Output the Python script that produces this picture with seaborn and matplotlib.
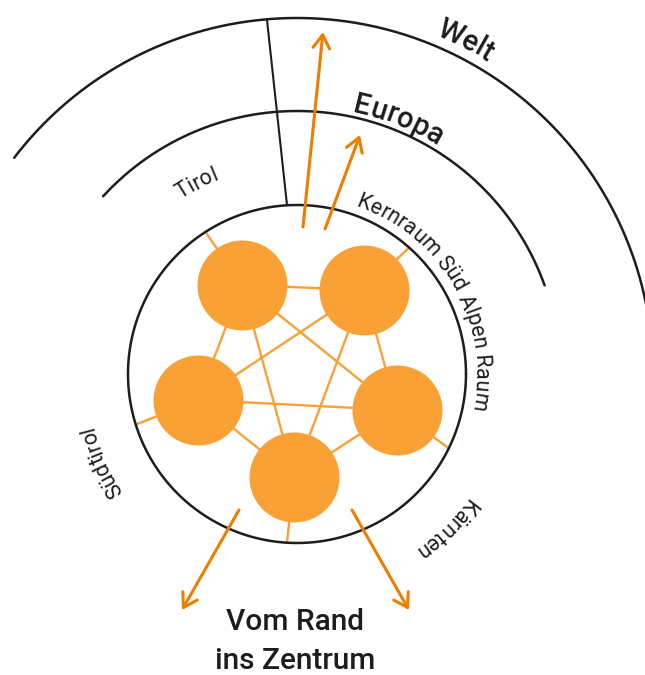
import numpy as np
import pandas as pd
import matplotlib.pyplot as plt
import seaborn as sns
from matplotlib.font_manager import FontProperties

sns.set_theme(style="white")
plt.rcParams['font.family'] = ['Roboto', 'DejaVu Sans']

# picture coordinates in pixels, y pointing down
center = (297, 374)
core_radius = 169
ring_radii = [263, 356]          # Europa, Welt
ring_start = [137.5, 142.6]
ring_end = [19.7, 5.0]

nodes = ["n1", "n2", "n3", "n4", "n5"]
node_x = [242, 364, 198, 397, 294]
node_y = [285, 290, 400, 410, 477]
node_radius = 45
spoke_angles = [122.8, 48.4, 197.4, -26.1, 266.6]

divider_x = [287, 267]
divider_y = [205, 20]

arrow_from_x = [303, 325, 239, 352]
arrow_from_y = [227, 229, 510, 510]
arrow_to_x = [323, 360, 182, 409]
arrow_to_y = [32, 135, 610, 610]

arc_texts = ["Welt", "Europa", "Kernraum Süd Alpen Raum", "Tirol", "Südtirol", "Kärnten"]
arc_text_angle = [63.2, 68.3, 29.5, 117.7, 204.0, -46.0]
arc_text_radius = [366, 268, 178, 210, 210, 210]
arc_text_size = [21, 21, 15.5, 15.5, 15.5, 15.5]
arc_text_weight = [500, 500, "normal", "normal", "normal", "normal"]

title_lines = ["Vom Rand", "ins Zentrum"]

ink = "#1d1d1b"
node_col = "#f9a135"
arrow_col = "#ee7d00"


def polar(r, deg):
    t = np.radians(deg)
    return center[0] + r * np.cos(t), center[1] - r * np.sin(t)


fig = plt.figure(figsize=(6.45, 6.75), dpi=100)
ax = fig.add_axes([0, 0, 1, 1])

# rings
t = np.linspace(0, 360, 400)
x, y = polar(core_radius, t)
ax.plot(x, y, color=ink, lw=1.8, zorder=3)
for r, a0, a1 in zip(ring_radii, ring_start, ring_end):
    t = np.linspace(a0, a1, 300)
    x, y = polar(r, t)
    ax.plot(x, y, color=ink, lw=1.8, zorder=3)
ax.plot(divider_x, divider_y, color=ink, lw=1.5, zorder=3)

# network edges and spokes
for i in range(len(nodes)):
    for j in range(i + 1, len(nodes)):
        ax.plot([node_x[i], node_x[j]], [node_y[i], node_y[j]],
                color=node_col, lw=1.7, zorder=2)
    sx, sy = polar(core_radius, spoke_angles[i])
    ax.plot([node_x[i], sx], [node_y[i], sy], color=node_col, lw=1.7, zorder=2)

df = pd.DataFrame({"node": nodes, "x": node_x, "y": node_y})
size_pt = 2 * node_radius * 72 / fig.dpi
sns.scatterplot(data=df, x="x", y="y", s=size_pt ** 2, color=node_col,
                linewidth=0, ax=ax, zorder=4, legend=False)

# arrows
for fx, fy, tx, ty in zip(arrow_from_x, arrow_from_y, arrow_to_x, arrow_to_y):
    ax.annotate("", xy=(tx, ty), xytext=(fx, fy),
                arrowprops=dict(arrowstyle="->,head_length=0.8,head_width=0.5",
                                color=arrow_col, lw=2.2, shrinkA=0, shrinkB=0),
                zorder=5)

# text along the rings
renderer = fig.canvas.get_renderer()


def text_width(s, size, weight):
    prop = FontProperties(family=['Roboto', 'DejaVu Sans'], size=size, weight=weight)
    w1 = renderer.get_text_width_height_descent(s + "l", prop, ismath=False)[0]
    w0 = renderer.get_text_width_height_descent("l", prop, ismath=False)[0]
    return w1 - w0


for label, ang, r, size, wt in zip(arc_texts, arc_text_angle, arc_text_radius,
                                   arc_text_size, arc_text_weight):
    total = text_width(label, size, wt)
    start = ang + np.degrees(total / 2 / r)
    for i, ch in enumerate(label):
        if ch == " ":
            continue
        c = (text_width(label[:i], size, wt) + text_width(label[:i + 1], size, wt)) / 2
        th = start - np.degrees(c / r)
        px, py = polar(r, th)
        ax.text(px, py, ch, rotation=th - 90, rotation_mode="anchor",
                ha="center", va="baseline", fontsize=size, fontweight=wt,
                color=ink, zorder=6)

ax.text(295, 622, title_lines[0], ha="center", va="center", fontsize=21.5,
        fontweight=500, color=ink)
ax.text(295, 661, title_lines[1], ha="center", va="center", fontsize=21.5,
        fontweight=500, color=ink)

ax.set_xlim(0, 645)
ax.set_ylim(675, 0)
ax.set_axis_off()
plt.savefig("out.png", dpi=100)
